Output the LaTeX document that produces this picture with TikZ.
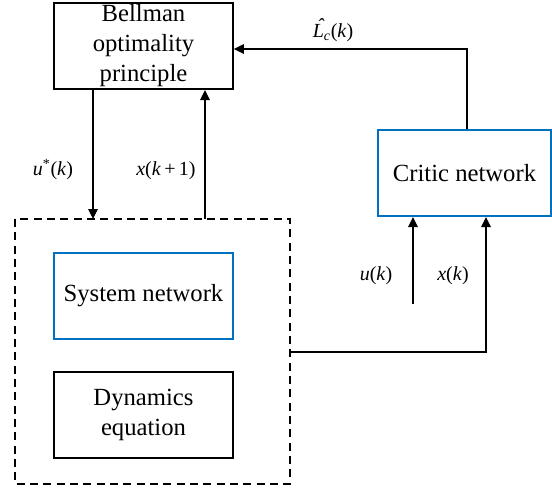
\documentclass[tikz,border=0pt]{standalone}
\usepackage{fontspec}
\setmainfont{Liberation Serif}
\usetikzlibrary{arrows.meta}
\definecolor{boxblue}{RGB}{0,112,192}
\newcommand{\hatL}{\makebox[0pt][l]{\hspace{3.2pt}\raisebox{4.2pt}{\textit{\char"02C6}}}\textit{L}}
\begin{document}
\begin{tikzpicture}[x=0.75pt,y=-0.75pt,
  blk/.style={draw, line width=1.5pt, minimum width=134pt, minimum height=64.5pt, inner sep=0pt, align=center, font=\fontsize{18.5}{22.5}\selectfont},
  bblk/.style={blk, draw=boxblue},
  dbox/.style={draw, line width=1.5pt, dash pattern=on 6pt off 4pt},
  arr/.style={line width=1.3pt, -{Triangle[length=7.5pt,width=7pt]}},
  lbl/.style={font=\fontsize{15}{18}\selectfont, inner sep=0pt}]
\useasboundingbox (0,0) rectangle (552,489);
\node[blk] (bell) at (143.5,46) {Bellman\\optimality\\principle};
\coordinate (dnw) at (15,219);
\coordinate (dse) at (290,484);
\draw[dbox] (dnw) rectangle (dse);
\node[bblk] (sys) at (143.5,295.5) {System network};
\node[blk] (dyn) at (143.5,415) {Dynamics\\equation};
\node[bblk, minimum width=130pt] (crit) at (464.5,173) {Critic network};
\coordinate (cu) at (93,0);
\coordinate (cx) at (205,0);
\coordinate (cl) at (467,49);
\coordinate (ck) at (413,304);
\coordinate (cxk) at (486,352);
\draw[arr] (bell.south -| cu) -- (dnw -| cu);
\draw[arr] (dnw -| cx) -- (bell.south -| cx);
\draw[arr] (crit.north -| cl) -- (cl) -- (bell.east |- cl);
\draw[arr] (ck) -- (crit.south -| ck);
\draw[arr] (dse |- cxk) -- (cxk) -- (crit.south -| cxk);
\node[lbl] (l1) at (53,170) {\textit{u}\textsuperscript{*}(\textit{k})};
\node[lbl] (l2) at (166,171) {\textit{x}(\textit{k}\,+\,1)};
\node[lbl] (l3) at (333,30) {\hatL\textsubscript{\textit{c}}(\textit{k})};
\node[lbl] (l4) at (376,276) {\textit{u}(\textit{k})};
\node[lbl] (l5) at (453,276) {\textit{x}(\textit{k})};
\end{tikzpicture}
\end{document}
